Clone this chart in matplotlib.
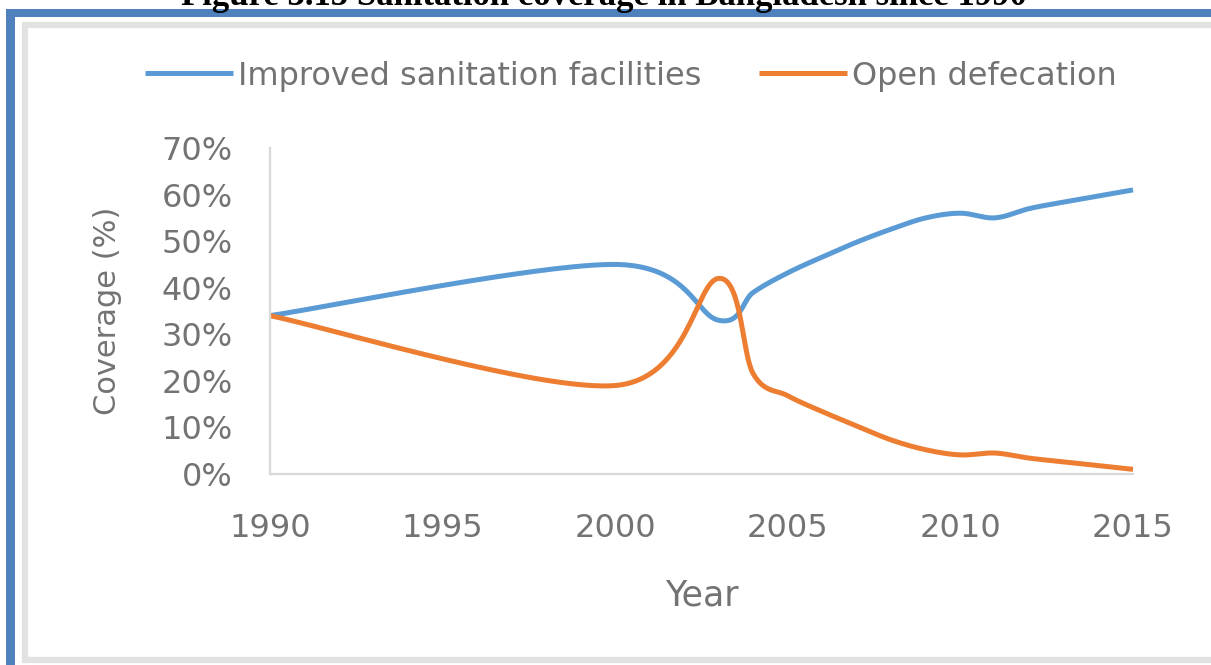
import matplotlib
matplotlib.use("Agg")
import matplotlib.pyplot as plt
from matplotlib.patches import Rectangle
import numpy as np

# data (coverage, %)
years_improved = [1990, 2000, 2003, 2004, 2005, 2006, 2007, 2008, 2009, 2010, 2011, 2012, 2013, 2014, 2015]
improved = [34, 45, 33, 39, 43.2, 46.6, 49.8, 52.6, 55, 56, 55, 57, 58.4, 59.7, 61]

years_open = [1990, 2000, 2003, 2004, 2005, 2006, 2007, 2008, 2009, 2010, 2011, 2012, 2013, 2014, 2015]
open_def = [34, 19, 42, 21.5, 16.8, 13.4, 10.3, 7.3, 5.2, 4.1, 4.5, 3.4, 2.6, 1.8, 1]

x_ticks = [1990, 1995, 2000, 2005, 2010, 2015]
y_ticks = [0, 10, 20, 30, 40, 50, 60, 70]

BLUE = "#5B9BD5"
ORANGE = "#ED7D31"
TXT = "#737373"
W, H = 1211, 665


def smooth(xs, ys, n=60):
    # bezier smoothing like the spreadsheet "smoothed line" option
    pts = np.column_stack([xs, ys]).astype(float)
    out = []
    for i in range(len(pts) - 1):
        p0 = pts[i - 1] if i > 0 else pts[i]
        p1 = pts[i]
        p2 = pts[i + 1]
        p3 = pts[i + 2] if i + 2 < len(pts) else pts[i + 1]
        c1 = p1 + (p2 - p0) / 6
        c2 = p2 - (p3 - p1) / 6
        t = np.linspace(0, 1, n)[:, None]
        seg = ((1 - t) ** 3) * p1 + 3 * ((1 - t) ** 2) * t * c1 + 3 * (1 - t) * t ** 2 * c2 + t ** 3 * p2
        out.append(seg if i == 0 else seg[1:])
    out = np.vstack(out)
    return out[:, 0], out[:, 1]


def fx(px):
    return px / W


def fy(py):
    return 1 - py / H


fig = plt.figure(figsize=(W / 100, H / 100), dpi=100)

# page decoration: cut title, blue frame, grey chart border
fig.text(fx(604), fy(5), "Figure 3.15 Sanitation coverage in Bangladesh since 1990",
         ha="center", va="baseline", fontsize=25, fontweight="bold",
         family="Liberation Serif", color="black")
fig.add_artist(Rectangle((fx(6), fy(665)), fx(9), (665 - 9) / H, transform=fig.transFigure,
                         facecolor="#4F81BD", edgecolor="none", zorder=-2))
fig.add_artist(Rectangle((fx(6), fy(17)), 1, 8 / H, transform=fig.transFigure,
                         facecolor="#4F81BD", edgecolor="none", zorder=-2))
fig.add_artist(Rectangle((fx(25), fy(660)), 1.2, (660 - 25) / H, transform=fig.transFigure,
                         facecolor="white", edgecolor="#E2E2E2", linewidth=4.5, zorder=-1))

ax = fig.add_axes([fx(270), fy(474), fx(1133) - fx(270), (474 - 148) / H])
ax.set_zorder(2)

bx, by = smooth(years_improved, improved)
ox, oy = smooth(years_open, open_def)
ax.plot(bx, by, color=BLUE, lw=3.6, solid_capstyle="butt", label="Improved sanitation facilities")
ax.plot(ox, oy, color=ORANGE, lw=3.6, solid_capstyle="butt", label="Open defecation")

ax.set_xlim(1990, 2015)
ax.set_ylim(0, 70)
ax.set_xticks(x_ticks)
ax.set_yticks(y_ticks)
ax.set_yticklabels([f"{v}%" for v in y_ticks])
ax.tick_params(length=0, labelcolor=TXT, labelsize=23)
ax.tick_params(axis="y", pad=27)
ax.tick_params(axis="x", pad=28)
ax.patch.set_alpha(0)
for s in ["top", "right"]:
    ax.spines[s].set_visible(False)
for s in ["left", "bottom"]:
    ax.spines[s].set_color("#D9D9D9")
    ax.spines[s].set_linewidth(1.6)
for line in ax.lines:
    line.set_clip_on(False)

fig.text(fx(108), fy(311), "Coverage (%)", rotation=90, ha="center", va="center",
         fontsize=22, color=TXT)
fig.text(fx(702), fy(596), "Year", ha="center", va="center", fontsize=25, color=TXT)

fig.legend(loc="center", bbox_to_anchor=(fx(631), fy(76)), ncol=2, frameon=False,
           fontsize=23, labelcolor=TXT, handlelength=2.75, handletextpad=0.15,
           columnspacing=1.8)

fig.savefig("out.png", dpi=100)
